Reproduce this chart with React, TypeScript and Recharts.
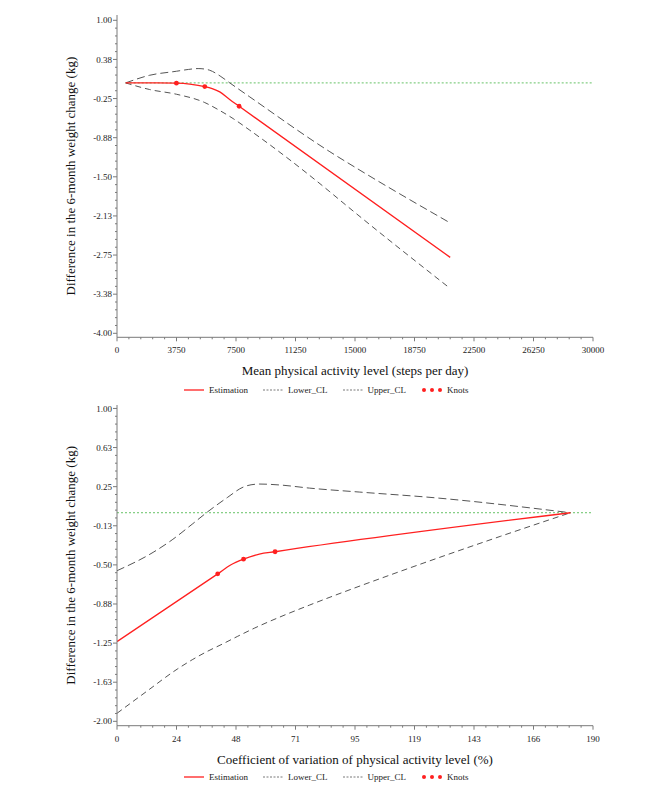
import React from 'react';
import { ComposedChart, Line, Scatter, XAxis, YAxis, Legend } from 'recharts';

// ---------- Top chart: mean physical activity level ----------
const TOP_EST_X = [547, 1500, 2500, 3744, 4585, 5531, 6000, 6477, 7100, 7697, 21000];
const TOP_EST_Y = [0, 0, 0, -0.005, -0.02, -0.059, -0.092, -0.144, -0.265, -0.373, -2.787];
const TOP_UPPER_X = [547, 2061, 3744, 4500, 5111, 5500, 5847, 6500, 7109, 8371, 13418, 15312, 21000];
const TOP_UPPER_Y = [0, 0.122, 0.186, 0.215, 0.229, 0.222, 0.202, 0.11, 0, -0.224, -1.1, -1.395, -2.237];
const TOP_LOWER_X = [547, 2061, 3744, 5531, 6400, 7319, 8371, 13418, 14069, 21000];
const TOP_LOWER_Y = [0, -0.106, -0.181, -0.314, -0.43, -0.57, -0.756, -1.74, -1.877, -3.284];
const TOP_KNOT_X = [3744, 5531, 7697];
const TOP_KNOT_Y = [-0.005, -0.059, -0.373];
const TOP_REF_X = [547, 30000];
const TOP_X_MAJOR = [0, 3750, 7500, 11250, 15000, 18750, 22500, 26250, 30000];
const TOP_X_LABELS = ['0', '3750', '7500', '11250', '15000', '18750', '22500', '26250', '30000'];
const TOP_Y_MAJOR = [1, 0.375, -0.25, -0.875, -1.5, -2.125, -2.75, -3.375, -4];
const TOP_Y_LABELS = ['1.00', '0.38', '-0.25', '-0.88', '-1.50', '-2.13', '-2.75', '-3.38', '-4.00'];

// ---------- Bottom chart: coefficient of variation ----------
const BOT_EST_X = [0, 40.2, 45.5, 50.5, 56.8, 63.1, 181];
const BOT_EST_Y = [-1.235, -0.586, -0.499, -0.445, -0.397, -0.374, 0];
const BOT_UPPER_X = [0, 14.4, 22, 30, 35.7, 44, 50.3, 53.5, 57, 65, 76.9, 96.9, 126.6, 181];
const BOT_UPPER_Y = [-0.556, -0.38, -0.26, -0.11, 0, 0.145, 0.245, 0.268, 0.275, 0.266, 0.236, 0.198, 0.144, 0];
const BOT_LOWER_X = [0, 12, 24, 30, 36, 42, 48, 55, 65, 76.9, 95, 113.3, 153.2, 181];
const BOT_LOWER_Y = [-1.923, -1.71, -1.5, -1.41, -1.33, -1.26, -1.187, -1.105, -1.0, -0.885, -0.72, -0.56, -0.225, 0];
const BOT_KNOT_X = [40.2, 50.5, 63.1];
const BOT_KNOT_Y = [-0.586, -0.445, -0.374];
const BOT_REF_X = [0, 190];
const BOT_X_MAJOR = [0, 23.75, 47.5, 71.25, 95, 118.75, 142.5, 166.25, 190];
const BOT_X_LABELS = ['0', '24', '48', '71', '95', '119', '143', '166', '190'];
const BOT_Y_MAJOR = [1, 0.625, 0.25, -0.125, -0.5, -0.875, -1.25, -1.625, -2];
const BOT_Y_LABELS = ['1.00', '0.63', '0.25', '-0.13', '-0.50', '-0.88', '-1.25', '-1.63', '-2.00'];

const LEGEND_ITEMS = ['Estimation', 'Lower_CL', 'Upper_CL', 'Knots'];

const zip = (xs: number[], ys: number[]) => xs.map((x, i) => ({ x, y: ys[i] }));

const withMinors = (majors: number[], parts = 5) => {
  const out: number[] = [];
  for (let i = 0; i < majors.length - 1; i++) {
    for (let k = 0; k < parts; k++) out.push(majors[i] + ((majors[i + 1] - majors[i]) * k) / parts);
  }
  out.push(majors[majors.length - 1]);
  return out;
};

const RED = '#ff2020';
const GRAY = '#555555';
const GREEN = '#66c266';
const AXIS = '#7a7a7a';
const TICK_FONT = '"Liberation Serif", "Times New Roman", serif';
const TITLE_FONT = '"Liberation Serif", "Times New Roman", serif';

const findIdx = (arr: number[], v: number) => arr.findIndex((m) => Math.abs(m - v) < 1e-6);

const makeXTick = (majors: number[], labels: string[]) => (props: any) => {
  const { x, y, payload } = props;
  const idx = findIdx(majors, payload.value);
  const major = idx >= 0;
  return (
    <g>
      <line x1={x} x2={x} y1={y} y2={y + (major ? 4 : 2)} stroke={AXIS} strokeWidth={1} />
      {major && (
        <text x={x} y={y + 13} dy="0.35em" textAnchor="middle" fontFamily={TICK_FONT} fontSize={9} fill="#222">
          {labels[idx]}
        </text>
      )}
    </g>
  );
};

const makeYTick = (majors: number[], labels: string[]) => (props: any) => {
  const { x, y, payload } = props;
  const idx = findIdx(majors, payload.value);
  const major = idx >= 0;
  return (
    <g>
      <line x1={x} x2={x - (major ? 4 : 2)} y1={y} y2={y} stroke={AXIS} strokeWidth={1} />
      {major && (
        <text x={x - 5} y={y} dy="0.35em" textAnchor="end" fontFamily={TICK_FONT} fontSize={9} fill="#222">
          {labels[idx]}
        </text>
      )}
    </g>
  );
};

const XTitle = (props: any) => {
  const { viewBox, text, gap } = props;
  const cx = viewBox.x + viewBox.width / 2;
  return (
    <text x={cx} y={viewBox.y + gap} dy="0.35em" textAnchor="middle" fontFamily={TITLE_FONT} fontSize={13} fill="#111">
      {text}
    </text>
  );
};

const YTitle = (props: any) => {
  const { viewBox, text } = props;
  const cx = 70;
  const cy = viewBox.y + viewBox.height / 2;
  return (
    <text
      x={cx}
      y={cy}
      dy="0.35em"
      textAnchor="middle"
      transform={`rotate(-90, ${cx}, ${cy})`}
      fontFamily={TITLE_FONT}
      fontSize={13}
      fill="#111"
    >
      {text}
    </text>
  );
};

const LegendContent = () => (
  <div style={{ display: 'flex', alignItems: 'center', fontFamily: TICK_FONT, fontSize: 9, color: '#222', lineHeight: '12px' }}>
    {LEGEND_ITEMS.map((name, i) => (
      <div key={name} style={{ display: 'flex', alignItems: 'center', marginRight: 15 }}>
        <svg width={i === 3 ? 23 : 20} height={12} style={{ marginRight: i === 3 ? 3 : 5 }}>
          {i === 0 && <line x1={0} x2={20} y1={6} y2={6} stroke={RED} strokeWidth={1.3} />}
          {(i === 1 || i === 2) && <line x1={0} x2={20} y1={6} y2={6} stroke={GRAY} strokeWidth={0.8} strokeDasharray="2 1.5" />}
          {i === 3 && (
            <g fill={RED}>
              <circle cx={3} cy={6} r={2} />
              <circle cx={11} cy={6} r={2} />
              <circle cx={19} cy={6} r={2} />
            </g>
          )}
        </svg>
        <span>{name}</span>
      </div>
    ))}
  </div>
);

const KnotShape = (p: any) => <circle cx={p.cx} cy={p.cy} r={2.4} fill={RED} />;

type PanelProps = {
  top: number;
  height: number;
  marginTop: number;
  xAxisHeight: number;
  xDomain: [number, number];
  yDomain: [number, number];
  xMajor: number[];
  xLabels: string[];
  yMajor: number[];
  yLabels: string[];
  est: { x: number; y: number }[];
  upper: { x: number; y: number }[];
  lower: { x: number; y: number }[];
  knots: { x: number; y: number }[];
  ref: { x: number; y: number }[];
  xTitle: string;
  yTitle: string;
  titleGap: number;
  legendTop: number;
};

const Panel = (p: PanelProps) => (
  <div style={{ position: 'absolute', left: 0, top: p.top }}>
    <ComposedChart width={666} height={p.height} margin={{ top: p.marginTop, right: 73, bottom: 0, left: 0 }}>
      <XAxis
        type="number"
        dataKey="x"
        domain={p.xDomain}
        ticks={withMinors(p.xMajor)}
        interval={0}
        allowDataOverflow
        height={p.xAxisHeight}
        tickSize={0}
        tickMargin={0}
        tickLine={false}
        axisLine={{ stroke: AXIS }}
        tick={makeXTick(p.xMajor, p.xLabels)}
        label={<XTitle text={p.xTitle} gap={p.titleGap} />}
      />
      <YAxis
        type="number"
        dataKey="y"
        domain={p.yDomain}
        ticks={withMinors(p.yMajor)}
        interval={0}
        allowDataOverflow
        width={117}
        tickSize={0}
        tickMargin={0}
        tickLine={false}
        axisLine={{ stroke: AXIS }}
        tick={makeYTick(p.yMajor, p.yLabels)}
        label={<YTitle text={p.yTitle} />}
      />
      <Legend
        layout="horizontal"
        verticalAlign="middle"
        align="center"
        content={<LegendContent />}
        wrapperStyle={{ top: p.legendTop, left: 184, width: 400 }}
      />
      <Line data={p.ref} dataKey="y" stroke={GREEN} strokeWidth={1} strokeDasharray="2 2" dot={false} activeDot={false} isAnimationActive={false} legendType="none" />
      <Line data={p.lower} dataKey="y" type="monotone" stroke={GRAY} strokeWidth={1} strokeDasharray="6 4" dot={false} activeDot={false} isAnimationActive={false} />
      <Line data={p.upper} dataKey="y" type="monotone" stroke={GRAY} strokeWidth={1} strokeDasharray="8 4" dot={false} activeDot={false} isAnimationActive={false} />
      <Line data={p.est} dataKey="y" type="monotone" stroke={RED} strokeWidth={1.3} dot={false} activeDot={false} isAnimationActive={false} />
      <Scatter data={p.knots} dataKey="y" shape={KnotShape} isAnimationActive={false} />
    </ComposedChart>
  </div>
);

export default function App() {
  return (
    <div style={{ position: 'relative', width: 666, height: 799 }}>
      <div style={{ position: 'absolute', left: -8, top: -8, width: 666, height: 799 }}>
        <Panel
          top={0}
          height={400}
          marginTop={15}
          xAxisHeight={62.7}
          xDomain={[0, 30000]}
          yDomain={[-4.0639, 1.0847]}
          xMajor={TOP_X_MAJOR}
          xLabels={TOP_X_LABELS}
          yMajor={TOP_Y_MAJOR}
          yLabels={TOP_Y_LABELS}
          est={zip(TOP_EST_X, TOP_EST_Y)}
          upper={zip(TOP_UPPER_X, TOP_UPPER_Y)}
          lower={zip(TOP_LOWER_X, TOP_LOWER_Y)}
          knots={zip(TOP_KNOT_X, TOP_KNOT_Y)}
          ref={TOP_REF_X.map((x) => ({ x, y: 0 }))}
          xTitle="Mean physical activity level (steps per day)"
          yTitle="Difference in the 6-month weight change (kg)"
          titleGap={33}
          legendTop={384}
        />
        <Panel
          top={400}
          height={399}
          marginTop={5}
          xAxisHeight={73.3}
          xDomain={[0, 190]}
          yDomain={[-2.042, 1.033]}
          xMajor={BOT_X_MAJOR}
          xLabels={BOT_X_LABELS}
          yMajor={BOT_Y_MAJOR}
          yLabels={BOT_Y_LABELS}
          est={zip(BOT_EST_X, BOT_EST_Y)}
          upper={zip(BOT_UPPER_X, BOT_UPPER_Y)}
          lower={zip(BOT_LOWER_X, BOT_LOWER_Y)}
          knots={zip(BOT_KNOT_X, BOT_KNOT_Y)}
          ref={BOT_REF_X.map((x) => ({ x, y: 0 }))}
          xTitle="Coefficient of variation of physical activity level (%)"
          yTitle="Difference in the 6-month weight change (kg)"
          titleGap={34}
          legendTop={371}
        />
      </div>
    </div>
  );
}
